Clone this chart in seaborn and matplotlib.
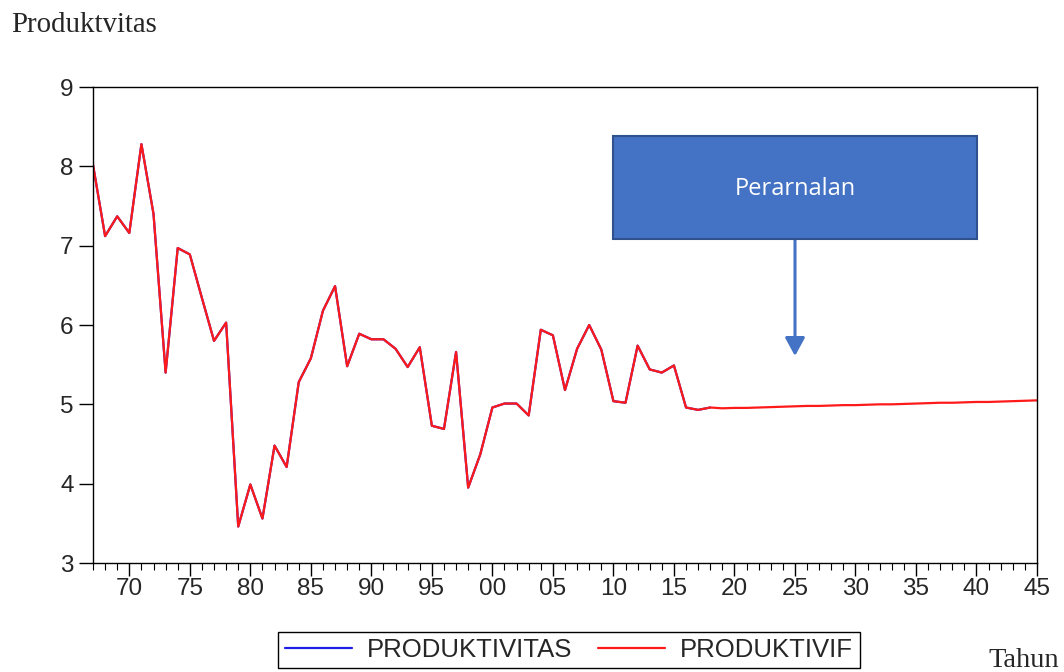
#!/usr/bin/env python

import matplotlib

matplotlib.use("Agg")

import matplotlib.pyplot as plt
import pandas as pd
import seaborn as sns
from matplotlib.lines import Line2D
from matplotlib.patches import Rectangle
from matplotlib.ticker import FuncFormatter, MultipleLocator

# actual data, 1967-2018
years_actual = list(range(1967, 2019))
produktivitas = [
    8.02, 7.12, 7.37, 7.16, 8.28, 7.40, 5.40, 6.97, 6.89, 6.34,
    5.80, 6.03, 3.46, 3.99, 3.56, 4.48, 4.21, 5.28, 5.58, 6.18,
    6.49, 5.48, 5.89, 5.82, 5.82, 5.70, 5.47, 5.72, 4.73, 4.69,
    5.66, 3.95, 4.37, 4.96, 5.01, 5.01, 4.86, 5.94, 5.87, 5.18,
    5.70, 6.00, 5.69, 5.04, 5.02, 5.74, 5.44, 5.40, 5.49, 4.96,
    4.93, 4.96,
]

# forecast, 2019-2045
years_forecast = list(range(2019, 2046))
forecast = [
    4.95, 4.955, 4.955, 4.96, 4.965, 4.97, 4.975, 4.98, 4.98, 4.985,
    4.99, 4.99, 4.995, 5.00, 5.00, 5.005, 5.01, 5.015, 5.02, 5.02,
    5.025, 5.03, 5.03, 5.035, 5.04, 5.045, 5.05,
]

series_names = ["PRODUKTIVITAS", "PRODUKTIVIF"]
series_colors = {"PRODUKTIVITAS": "#1f1fe6", "PRODUKTIVIF": "#ff1a1a"}
y_ticks = [3, 4, 5, 6, 7, 8, 9]


def main():
    df = pd.concat(
        [
            pd.DataFrame(
                {"year": years_actual, "value": produktivitas, "series": series_names[0]}
            ),
            pd.DataFrame(
                {
                    "year": years_actual + years_forecast,
                    "value": produktivitas + forecast,
                    "series": series_names[1],
                }
            ),
        ],
        ignore_index=True,
    )

    sns.set_theme(style="white")
    plt.rcParams["font.family"] = ["Liberation Sans", "DejaVu Sans"]

    W, H = 1064, 672
    fig = plt.figure(figsize=(W / 100, H / 100), dpi=100, facecolor="w")
    ax = fig.add_axes([93 / W, 1 - 563 / H, (1037 - 93) / W, (563 - 87) / H])

    sns.lineplot(
        data=df,
        x="year",
        y="value",
        hue="series",
        hue_order=series_names,
        palette=series_colors,
        linewidth=1.6,
        legend=False,
        ax=ax,
    )

    ax.set_xlim(1967, 2045)
    ax.set_ylim(3, 9)
    ax.set(xlabel="", ylabel="")
    ax.set_yticks(y_ticks)
    ax.xaxis.set_major_locator(MultipleLocator(5))
    ax.xaxis.set_minor_locator(MultipleLocator(1))
    ax.xaxis.set_major_formatter(FuncFormatter(lambda v, p: "%02d" % (int(round(v)) % 100)))
    for s in ax.spines.values():
        s.set_color("black")
        s.set_linewidth(1.0)
    ax.tick_params(axis="x", which="major", direction="out", length=9, width=1,
                   color="black", labelsize=17.5, pad=2, bottom=True)
    ax.tick_params(axis="x", which="minor", direction="out", length=5, width=0.8,
                   color="black", bottom=True)
    ax.tick_params(axis="y", which="major", direction="out", length=10, width=1,
                   color="black", labelsize=17.5, pad=4, left=True)

    # annotation box with arrow
    box_col = "#4472C4"
    fig.add_artist(
        Rectangle(
            (613 / W, 1 - 239 / H), (977 - 613) / W, (239 - 136) / H,
            transform=fig.transFigure, facecolor=box_col, edgecolor="#2F528F",
            linewidth=1.5,
        )
    )
    fig.text(795 / W, 1 - 189 / H, "Perarnalan", color="white", fontsize=17,
             family=["Open Sans", "DejaVu Sans"], ha="center", va="center")
    ax.annotate(
        "",
        xy=(795 / W, 1 - 356 / H),
        xytext=(795 / W, 1 - 239 / H),
        xycoords="figure fraction",
        textcoords="figure fraction",
        arrowprops=dict(arrowstyle="-|>,head_length=0.55,head_width=0.3",
                        color=box_col, lw=2.2, mutation_scale=20,
                        shrinkA=0, shrinkB=0),
    )

    # texts
    fig.text(11 / W, 1 - 32 / H, "Produktvitas", fontsize=20.8,
             family=["Liberation Serif", "DejaVu Serif"], va="baseline", ha="left")
    fig.text(1059 / W, 1 - 667 / H, "Tahun", fontsize=20.5,
             family=["Liberation Serif", "DejaVu Serif"], va="baseline", ha="right")

    handles = [Line2D([], [], color=series_colors[n], lw=1.6) for n in series_names]
    leg = fig.legend(
        handles, series_names, loc="center", bbox_to_anchor=(569 / W, 1 - 650 / H),
        ncol=2, fontsize=18.5, frameon=True, fancybox=False, framealpha=1,
        edgecolor="black", handlelength=2.6, handletextpad=0.6,
        columnspacing=1.0, borderpad=0.25,
    )
    leg.get_frame().set_linewidth(1.0)

    fig.savefig("out.png", dpi=100, facecolor="w")


if __name__ == "__main__":
    main()
